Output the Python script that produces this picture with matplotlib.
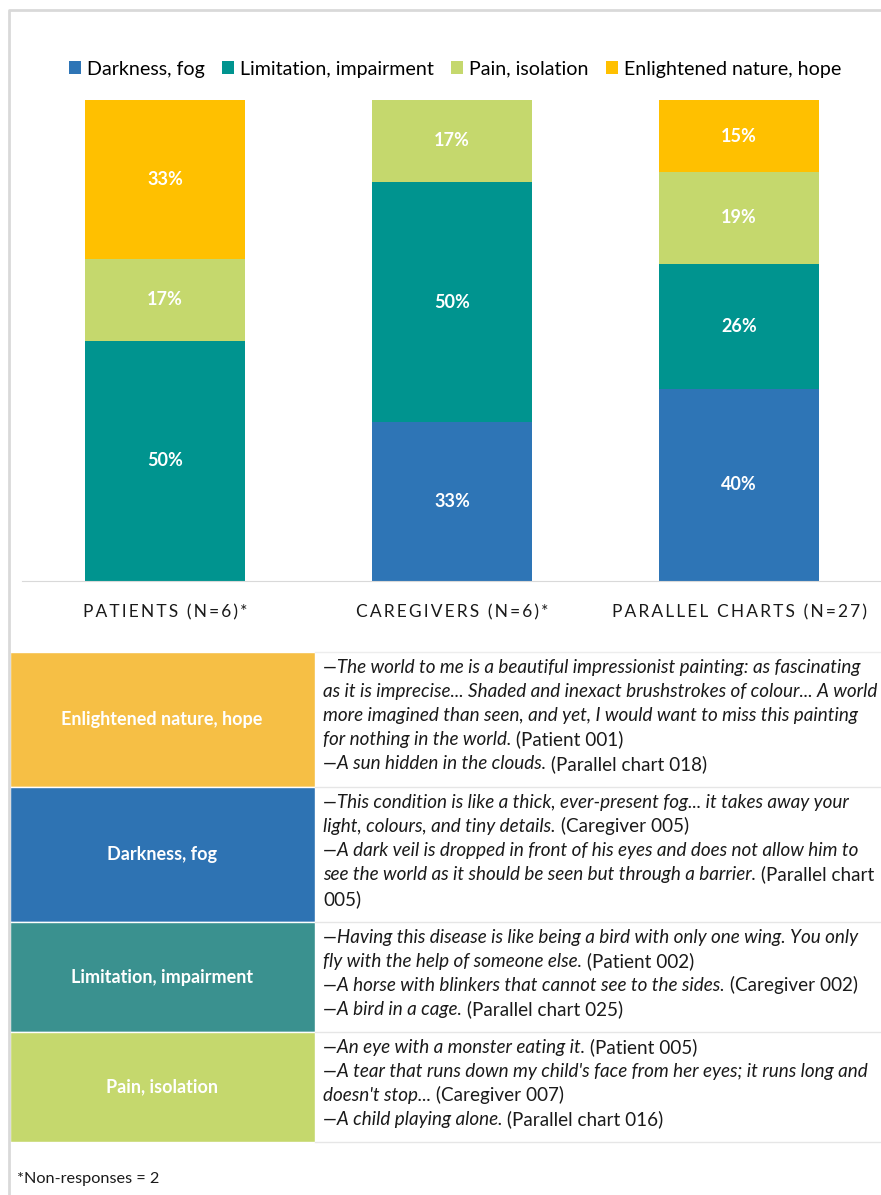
import matplotlib
matplotlib.use('Agg')
import matplotlib.pyplot as plt
from matplotlib.patches import Rectangle
import numpy as np

plt.rcParams['font.family'] = ['Lato', 'DejaVu Sans']

# bar chart data
groups = ['PATIENTS (N=6)*', 'CAREGIVERS (N=6)*', 'PARALLEL CHARTS (N=27)']
categories = ['Darkness, fog', 'Limitation, impairment', 'Pain, isolation', 'Enlightened nature, hope']
darkness = [0, 33, 40]
limitation = [50, 50, 26]
pain = [17, 17, 19]
enlightened = [33, 0, 15]
bar_colors = ['#2E75B6', '#00948F', '#C5D86D', '#FFC000']

# table data
table_labels = ['Enlightened nature, hope', 'Darkness, fog', 'Limitation, impairment', 'Pain, isolation']
table_colors = ['#F6BF45', '#2E73B3', '#3A918F', '#C5D86D']
quotes = [
    [("—The world to me is a beautiful impressionist painting: as fascinating", ""),
     ("as it is imprecise... Shaded and inexact brushstrokes of colour... A world", ""),
     ("more imagined than seen, and yet, I would want to miss this painting", ""),
     ("for nothing in the world.", " (Patient 001)"),
     ("—A sun hidden in the clouds.", " (Parallel chart 018)")],
    [("—This condition is like a thick, ever-present fog... it takes away your", ""),
     ("light, colours, and tiny details.", " (Caregiver 005)"),
     ("—A dark veil is dropped in front of his eyes and does not allow him to", ""),
     ("see the world as it should be seen but through a barrier.", " (Parallel chart"),
     ("", "005)")],
    [("—Having this disease is like being a bird with only one wing. You only", ""),
     ("fly with the help of someone else.", " (Patient 002)"),
     ("—A horse with blinkers that cannot see to the sides.", " (Caregiver 002)"),
     ("—A bird in a cage.", " (Parallel chart 025)")],
    [("—An eye with a monster eating it.", " (Patient 005)"),
     ("—A tear that runs down my child's face from her eyes; it runs long and", ""),
     ("doesn't stop...", " (Caregiver 007)"),
     ("—A child playing alone.", " (Parallel chart 016)")],
]
row_edges = [652, 787, 922, 1032, 1142]
footnote = '*Non-responses = 2'

W, H = 881, 1195
fig = plt.figure(figsize=(W / 100, H / 100), dpi=100)

# overlay in pixel coordinates for frame and table
ov = fig.add_axes([0, 0, 1, 1], zorder=0)
ov.set_xlim(0, W)
ov.set_ylim(H, 0)
ov.axis('off')
ov.plot([9, 9, W], [H, 10, 10], color='#D9D9D9', lw=2, solid_capstyle='butt')

fs_q = 13.6
for i, lab in enumerate(table_labels):
    top, bot = row_edges[i], row_edges[i + 1]
    ov.add_patch(Rectangle((10, top), 305, bot - top, facecolor=table_colors[i],
                           edgecolor='white', lw=1))
    ov.text(162, (top + bot) / 2, lab, color='white', fontsize=13, fontweight='bold',
            ha='center', va='center')
    ov.plot([315, W], [bot, bot], color='#E6E6E6', lw=1)
    for j, (it, pl) in enumerate(quotes[i]):
        y = top + 15 + j * 24.2
        t = None
        if it:
            t = ov.text(323, y, it, style='italic', fontsize=fs_q, ha='left', va='center',
                        color='#1A1A1A')
        if pl:
            if t is None:
                ov.text(323, y, pl, fontsize=fs_q, ha='left', va='center', color='#1A1A1A')
            else:
                ov.annotate(pl, xy=(1, 0.5), xycoords=t, fontsize=fs_q, ha='left',
                            va='center', color='#1A1A1A')
ov.plot([315, W], [row_edges[0], row_edges[0]], color='#EDEDED', lw=1)

ov.text(17, 1179, footnote, fontsize=11.7, ha='left', va='center', color='#1A1A1A')

# stacked bars
ax = fig.add_axes([21.5 / W, (H - 581) / H, 861 / W, 481 / H], zorder=1)
ax.patch.set_alpha(0)
x = np.arange(len(groups))
series = [darkness, limitation, pain, enlightened]
bottom = np.zeros(len(groups))
for name, vals, col in zip(categories, series, bar_colors):
    vals = np.array(vals, dtype=float)
    ax.bar(x, vals, 0.557, bottom=bottom, color=col, label=name)
    for xi, v, b in zip(x, vals, bottom):
        if v > 0:
            ax.text(xi, b + v / 2, f'{int(v)}%', ha='center', va='center', color='white',
                    fontsize=13, fontweight='bold')
    bottom += vals

ax.set_xlim(-0.5, 2.5)
ax.set_ylim(0, 100)
for s in ['top', 'right', 'left']:
    ax.spines[s].set_visible(False)
ax.spines['bottom'].set_color('#D9D9D9')
ax.set_yticks([])
ax.set_xticks(x)
ax.set_xticklabels(['\u2009'.join(g) for g in groups], fontsize=12.5, color='#1A1A1A')
ax.tick_params(axis='x', length=0, pad=17)

fig.legend(loc='center', bbox_to_anchor=(455 / W, 1 - 69 / H), ncol=4, frameon=False,
           fontsize=14.1, handlelength=0.6, handleheight=0.65, handletextpad=0.3,
           columnspacing=0.9)

fig.savefig('out.png', dpi=100)
